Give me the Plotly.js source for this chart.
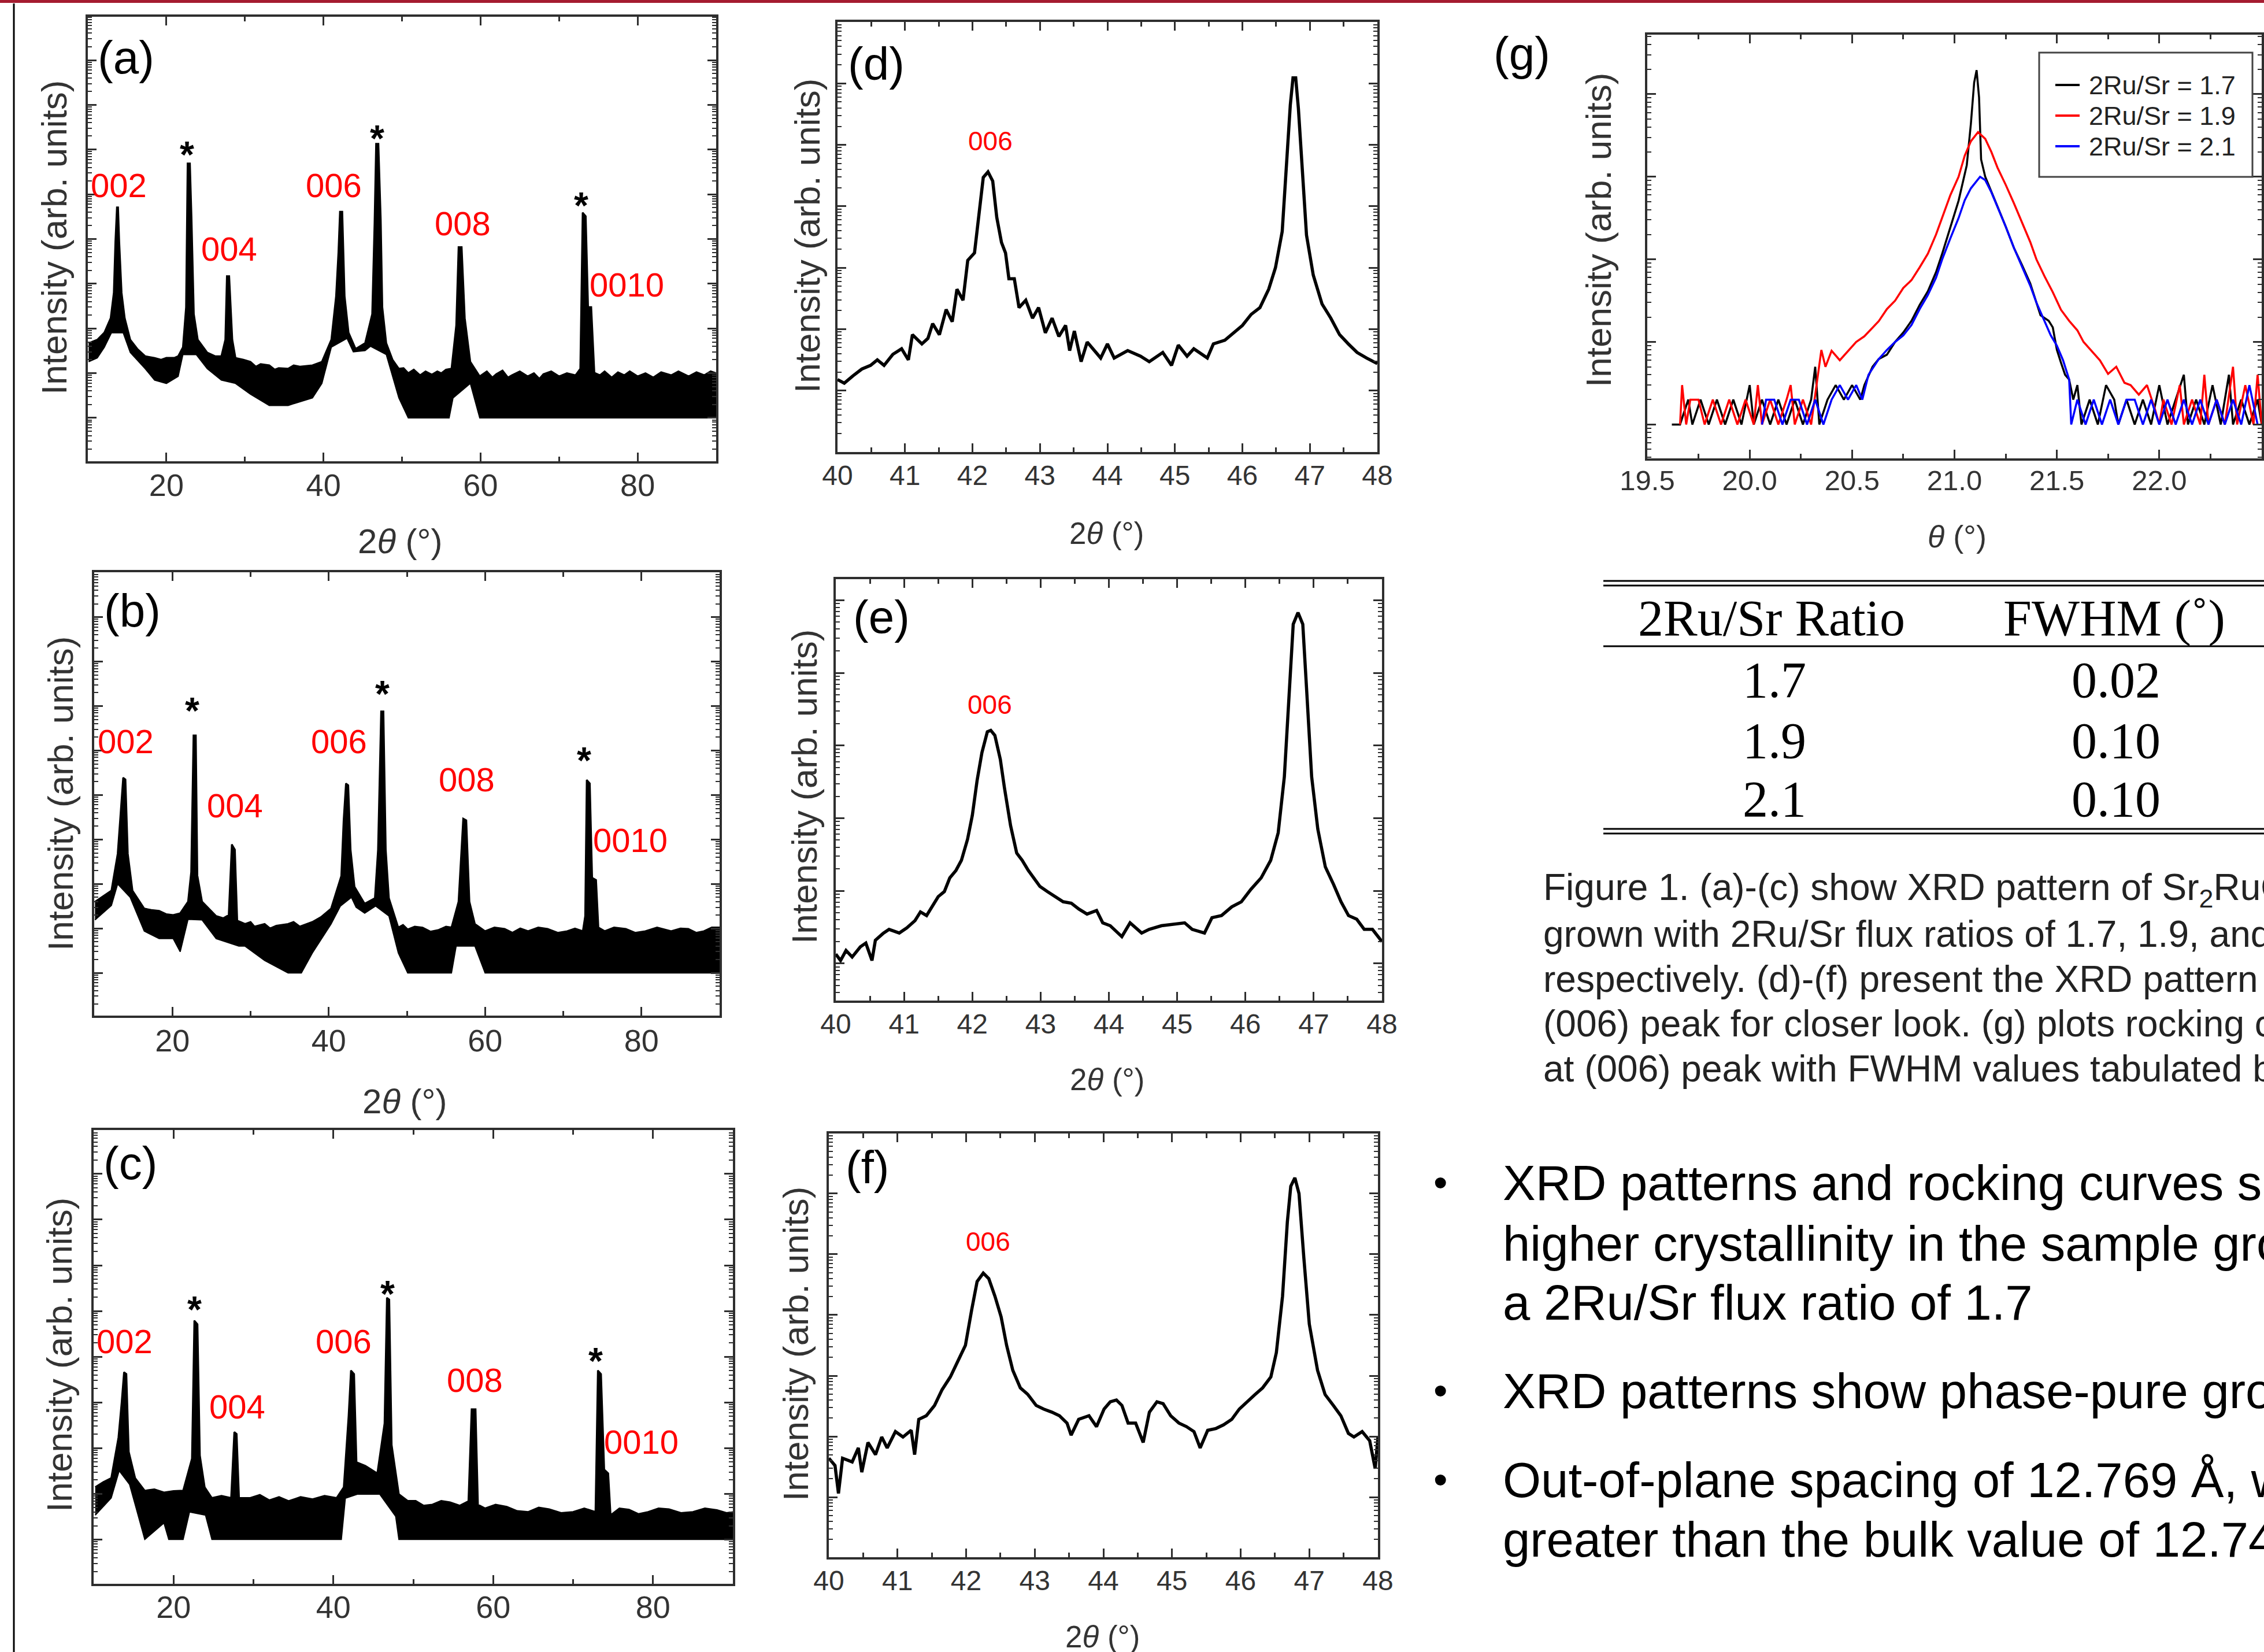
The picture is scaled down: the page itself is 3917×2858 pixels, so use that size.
<!DOCTYPE html>
<html>
<head>
<meta charset="utf-8">
<script src="https://cdn.plot.ly/plotly-3.0.1.min.js"></script>
<style>
html,body{margin:0;padding:0;overflow:hidden;background:#fff}
#chart{width:3917px;height:2858px}
</style>
</head>
<body>
<div id="chart"></div>
<script>
// ---------------- DATA ----------------
// (a) 2Ru/Sr = 1.7, wide scan: upper and lower envelope of the noisy trace (counts)
const aX = [10.1,11.2,12.1,12.9,13.3,13.5,13.7,13.85,14.0,14.3,14.7,15.4,16.3,17.3,18.5,19.3,20.0,21.0,21.5,22.1,22.5,22.7,23.0,23.2,23.5,24.0,25.2,26.2,27.0,27.5,27.7,28.0,28.4,28.8,29.8,30.7,31.4,32.0,33.1,33.8,34.3,35.5,36.2,37.0,38.6,39.8,41.0,41.6,41.9,42.1,42.4,42.7,43.2,44.1,45.3,46.2,46.5,46.7,47.0,47.3,47.5,48.0,48.8,49.6,50.2,50.8,51.5,52.3,53.0,53.8,54.5,55.0,55.6,56.3,56.9,57.2,57.6,58.0,58.7,59.9,60.8,61.5,62.0,62.8,63.5,64.0,65.0,66.0,66.8,67.5,68.0,69.0,70.0,71.0,72.1,72.7,73.0,73.4,73.7,74.1,74.5,75.2,75.8,76.7,77.5,78.3,79.0,80.0,81.0,82.0,83.0,84.3,85.2,86.5,87.5,88.5,89.3,90.0];
const aUpper = [47,56,81,170,631,8700,51000,51000,8700,630,170,56,35,24,22,20,22,22,24,38,300,490000,490000,32000,210,56,29,24,24,56,1480,1480,56,22,20,18,14,16,15,12,13,12.6,15,14,15,18,56,525,5000,40700,40700,525,81,35,47,209,22400,1350000,1350000,26900,300,47,20,12.6,13,10,12,9,11,9.3,11,10,12,12.6,117,6600,6600,170,18,8.5,11,8,9.5,11.5,8,9,11,8.5,10,7.5,9.5,11,8.5,10,9,12.6,38900,32400,300,300,10.2,9,11,8,10.5,9,11,8.5,10,8,10.5,9,11,8.5,10.5,9,11,10];
const aLowX = [10.1,11.2,12.1,13.0,14.5,15.4,17.3,18.5,20.0,21.5,22.1,23.8,25.2,27.0,28.8,30.7,33.1,35.5,38.6,39.8,41.0,43.0,43.8,45.3,46.0,48.0,49.6,50.8,56.0,56.5,58.7,59.9,90.0];
const aLower = [18,22,38,80,80,29,12.6,7,5.9,8.5,26,26,12.6,7,5.9,3.4,1.9,1.9,2.8,5.9,38,60,30,32,40,26,2.8,1,1,2.8,5.9,1,1];

// (b) 2Ru/Sr = 1.9, wide scan
const bX = [10.1,12.2,13.0,13.4,13.7,14.0,14.3,14.9,16.4,17.3,18.3,19.2,20.1,21.0,22.0,22.4,22.7,23.0,23.2,23.8,25.6,26.5,27.2,27.6,28.0,28.3,29.3,30.0,30.5,31.8,32.5,33.3,34.8,35.5,36.3,37.9,39.0,40.3,41.6,41.9,42.2,42.5,42.8,43.3,44.6,45.9,46.3,46.7,47.0,47.3,47.7,48.9,49.5,50.1,51.0,52.0,53.0,54.0,55.0,55.7,56.6,57.2,57.6,58.0,58.7,60.0,61.2,62.5,63.5,64.5,65.5,66.8,68.0,69.3,70.5,71.5,72.5,72.8,73.0,73.4,73.7,74.2,74.5,75.3,76.5,78.0,79.2,80.5,82.0,83.8,85.0,86.0,87.0,88.0,89.0,90.0];
const bUpper = [40,71,480,4000,24500,22400,480,71,28,26,25,21,20,22,40,186,219000,219000,155,40,19,17,20,776,589,15,12.6,14,11,12.6,10,11.5,12.6,14,11,14,18,28,151,2700,18200,16600,589,87,36,48,589,760000,760000,589,48,10.5,12,9.5,11,10.5,8.5,9.2,11,10.5,40,2950,2700,40,12.6,8.7,10.5,9.8,8,10,8.7,10.5,9.8,8,8.7,10,8.7,19,21900,18200,138,123,10.5,8.7,10.5,9.8,8,8.7,10.5,8.7,10,9.8,8,8.7,10.5,10.5];
const bLowX = [10.1,12.2,13.0,14.6,16.4,18.3,20.1,21.0,22.0,23.8,25.6,28.5,29.3,31.8,34.8,36.5,37.9,40.3,41.5,42.9,43.5,44.6,46.0,47.7,48.9,50.1,55.7,56.3,58.7,60.0,90.0];
const bLower = [15.5,33,100,50,8.7,5.9,5.9,3,16,15.5,5.9,4,4,1.9,1,1,2.8,12.6,32,50,30,22,32,19,2.8,1,1,4,4,1,1];

// (c) 2Ru/Sr = 2.1, wide scan
const cX = [10.2,11.2,12.2,13.1,13.5,13.8,14.1,14.4,15.2,16.4,17.6,18.8,20.0,21.2,22.3,22.6,23.0,23.3,23.9,24.8,26.0,27.2,27.6,27.9,28.2,29.6,30.8,32.0,33.2,34.4,35.9,37.4,38.9,40.4,41.3,41.9,42.2,42.6,42.9,44.0,45.5,46.4,46.7,47.0,47.3,48.2,49.3,50.3,51.3,52.4,53.5,54.6,55.8,56.9,57.3,57.8,58.1,59.0,60.3,61.7,63.0,64.4,65.7,67.0,68.5,70.0,71.4,72.8,73.1,73.5,73.9,74.4,74.7,75.8,77.0,78.2,79.4,80.7,82.0,83.5,85.0,86.5,88.0,89.2,90.2];
const cUpper = [14,18,22,170,1000,4570,4170,83,22,11.7,12.5,10.7,11.5,11.7,59,61700,51300,69,14,8.1,9,8.1,224,204,8.1,8.1,9.5,7.2,8.5,6.9,8.5,7.6,9,8.1,14,500,5000,4170,49,41,28,347,195000,178000,117,9.8,7,7,5.5,5.8,7,6.5,5.5,6.9,708,708,5.8,4.8,5.8,5.2,4.2,4,5,4.6,3.8,4,4.8,4,5000,4170,34,28,3.4,4.8,4.5,3.6,4,4.8,4.6,3.8,4,4.8,4.4,3.8,4];
const cLowX = [10.2,12.2,13.2,14.5,15.2,16.4,18.8,19.4,21.2,22.0,24.0,24.8,41.0,41.5,43.0,45.8,47.8,48.2,90.2];
const cLower = [3.4,8.1,32,16,5.8,1,2.3,1,1,4,3.4,1,1,8,9.8,9.8,3.2,1,1];

// (d)-(f) close-up of the (006) region
const dX = [40.00,40.10,40.23,40.36,40.49,40.59,40.69,40.82,40.95,41.05,41.11,41.25,41.34,41.41,41.51,41.61,41.70,41.77,41.86,41.93,42.03,42.10,42.16,42.23,42.30,42.36,42.43,42.49,42.54,42.62,42.69,42.79,42.89,42.98,43.08,43.18,43.28,43.38,43.44,43.51,43.61,43.70,43.90,44.00,44.10,44.30,44.49,44.62,44.82,44.95,45.05,45.18,45.28,45.48,45.57,45.74,45.87,46.00,46.13,46.26,46.39,46.49,46.59,46.66,46.71,46.75,46.79,46.83,46.89,46.95,47.05,47.18,47.31,47.44,47.57,47.70,47.84,48.00];
const dY = [15.1,13.2,17.4,22.4,25.7,31.6,25.7,38.9,47.9,31.6,81.3,57.5,70.8,123,81.3,209,132,447,295,1318,1738,8710,29500,36300,25700,6610,2570,1738,661,661,224,295,151,224,87.1,151,75.9,115,44.7,93.3,29.5,61.7,33.9,57.5,33.9,44.7,36.3,29.5,41.7,25.7,55.0,36.3,47.9,33.9,57.5,66.1,87.1,115,174,224,447,1000,3890,51300,447000,1230000,1230000,389000,44700,3390,759,257,151,81.3,57.5,41.7,33.9,27.5];
const eX = [40.00,40.07,40.15,40.24,40.36,40.44,40.53,40.58,40.70,40.78,40.93,41.04,41.16,41.24,41.33,41.41,41.50,41.59,41.67,41.76,41.84,41.93,42.00,42.07,42.14,42.22,42.27,42.33,42.41,42.47,42.56,42.65,42.73,42.82,42.90,42.99,43.10,43.22,43.33,43.45,43.56,43.68,43.82,43.91,44.02,44.19,44.31,44.48,44.59,44.77,44.94,45.11,45.22,45.40,45.51,45.65,45.80,45.94,46.08,46.23,46.37,46.48,46.57,46.63,46.70,46.77,46.84,46.90,46.97,47.06,47.17,47.29,47.40,47.51,47.63,47.74,47.86,48.00];
const eY = [13.5,11.0,15.1,12.3,17.0,19.1,11.0,20.9,26.3,29.5,26.3,30.9,38.9,51.3,45.7,60.3,83.2,97.7,151,191,263,513,1096,3311,7943,15500,16200,13800,6457,2630,794,331,263,191,151,115,97.7,83.2,70.8,67.6,56.2,47.9,53.7,36.3,33.1,23.4,36.3,26.3,29.5,33.1,34.7,36.3,29.5,26.3,42.7,45.7,60.3,70.8,105,151,263,631,3715,33100,468000,676000,468000,51300,3715,708,214,123,70.8,45.7,40.7,29.5,29.5,20.0];
const fX = [40.00,40.09,40.14,40.20,40.34,40.43,40.48,40.57,40.68,40.77,40.85,40.97,41.08,41.20,41.25,41.31,41.42,41.54,41.65,41.77,41.88,41.99,42.08,42.16,42.25,42.33,42.42,42.51,42.59,42.68,42.79,42.90,43.02,43.13,43.25,43.36,43.47,43.53,43.64,43.79,43.90,44.01,44.10,44.19,44.27,44.36,44.47,44.58,44.67,44.78,44.87,44.98,45.10,45.21,45.32,45.41,45.52,45.64,45.75,45.87,45.98,46.09,46.21,46.32,46.44,46.52,46.61,46.68,46.73,46.79,46.85,46.92,47.00,47.12,47.23,47.35,47.46,47.57,47.65,47.77,47.88,47.96,48.00];
const fY = [43.7,33.1,11.5,43.7,38.0,64.6,25.7,79.4,50.1,97.7,64.6,120,97.7,126,50.1,191,219,324,589,955,1738,3162,12000,35500,49000,39800,20400,9333,3162,1230,631,490,324,282,251,219,166,105,191,219,145,282,372,398,324,166,166,79.4,251,372,347,219,166,145,120,64.6,126,135,155,191,282,372,490,631,955,2399,20400,339000,1318000,1820000,1000000,89100,7079,1230,490,324,219,112,97.7,120,85.1,29.5,97.7];

// (g) rocking curves
const gNames = ['2Ru/Sr = 1.7','2Ru/Sr = 1.9','2Ru/Sr = 2.1'];
const gBlackX = [19.62,19.66,19.70,19.72,19.76,19.80,19.84,19.88,19.92,19.96,20.00,20.02,20.06,20.10,20.14,20.18,20.22,20.26,20.30,20.32,20.34,20.38,20.42,20.46,20.50,20.54,20.56,20.60,20.63,20.67,20.71,20.75,20.79,20.83,20.87,20.91,20.94,20.98,21.02,21.06,21.08,21.096,21.108,21.12,21.13,21.15,21.18,21.21,21.25,21.29,21.33,21.37,21.42,21.46,21.48,21.50,21.52,21.54,21.56,21.58,21.60,21.62,21.66,21.70,21.74,21.78,21.80,21.84,21.88,21.92,21.96,22.00,22.04,22.08,22.12,22.14,22.18,22.22,22.26,22.30,22.34,22.36,22.40,22.44,22.48,22.50];
const gBlack = [1,1,2,1,2,1,2,1,2,1,3,1,2,1,2,1,2,1,2,5,1,2,3,2,3,2,3,5,6.2,7,10,13,18,28,41,70,117,250,513,1380,4365,13800,19500,9120,1620,1000,650,437,250,138,85,51,21,18,15,8,5.6,4,3.5,2,3,1,2,1,3,2,1,2,1,2,1,3,1,2,4,1,2,1,3,1,4,1,2,1,2,1];
const gRedX = [19.66,19.67,19.69,19.71,19.75,19.78,19.82,19.86,19.90,19.94,19.98,20.02,20.04,20.06,20.10,20.14,20.18,20.20,20.22,20.26,20.30,20.33,20.35,20.37,20.40,20.44,20.48,20.52,20.56,20.60,20.63,20.67,20.71,20.75,20.79,20.83,20.87,20.91,20.94,20.98,21.02,21.05,21.08,21.115,21.15,21.18,21.21,21.25,21.29,21.33,21.37,21.40,21.44,21.48,21.52,21.56,21.60,21.63,21.67,21.71,21.75,21.79,21.83,21.86,21.90,21.94,21.98,22.00,22.02,22.06,22.10,22.12,22.16,22.20,22.22,22.24,22.28,22.32,22.36,22.38,22.42,22.46,22.48,22.50];
const gRed = [1,3,1,2,2,1,2,1,2,1,2,1,3,1,2,1,2,3,1,2,1,3.5,8,5,7.8,6,7.8,10,11.7,15,17.8,25,31.6,45,56,80,117,200,316,600,1000,1800,2690,3470,2880,2000,1290,800,479,280,162,100,62,40,24.5,18,13.8,10,7.8,6,4.1,5,3.2,3,2.3,3,1.5,1,2,1,3,1,2,1,4,1,2,1,5,1,3,1,4,1];
const gBlueX = [20.06,20.08,20.12,20.16,20.20,20.24,20.28,20.32,20.36,20.40,20.44,20.48,20.52,20.55,20.58,20.63,20.67,20.71,20.75,20.79,20.83,20.87,20.91,20.94,20.98,21.02,21.05,21.08,21.125,21.15,21.18,21.21,21.25,21.29,21.33,21.37,21.40,21.44,21.47,21.50,21.53,21.56,21.57,21.60,21.64,21.68,21.72,21.76,21.80,21.84,21.88,21.92,21.96,22.00,22.04,22.08,22.12,22.16,22.20,22.24,22.28,22.32,22.36,22.40,22.44,22.48];
const gBlue = [1,2,2,1,2,2,1,2,1,2,3,2,3,2,4,6.2,8,10,12,16,25,37,60,100,180,316,520,724,1000,912,650,437,250,138,80,48,30,18,12,9,6,3.5,1,2,1,2,1,2,1,2,2,1,2,1,2,1,2,1,2,1,2,1,2,1,3,1];

// peak labels
const wideLabels = ['002','004','006','008','0010'];
const zoomLabel = '006';

// FWHM table
const tableHeader = ['2Ru/Sr Ratio','FWHM (˚)'];
const tableRatio = ['1.7','1.9','2.1'];
const tableFWHM = ['0.02','0.10','0.10'];

// slide text
const captionLines = [
  'Figure 1. (a)-(c) show XRD pattern of Sr<sub>2</sub>RuO<sub>4</sub> thin films',
  'grown with 2Ru/Sr flux ratios of 1.7, 1.9, and 2.1,',
  'respectively. (d)-(f) present the XRD pattern of',
  '(006) peak for closer look. (g) plots rocking curves',
  'at (006) peak with FWHM values tabulated below.'
];
const bulletLines = [
  'XRD patterns and rocking curves show',
  'higher crystallinity in the sample grown with',
  'a 2Ru/Sr flux ratio of 1.7',
  'XRD patterns show phase-pure growth',
  'Out-of-plane spacing of 12.769 Å, which is',
  'greater than the bulk value of 12.74 Å'
];

// ---------------- LAYOUT ----------------
const W = 3917, H = 2858;
const FONT = '"Liberation Sans", Arial, Helvetica, sans-serif';
const SERIF = '"Liberation Serif", "Times New Roman", serif';
const FRAME = '#2e2e2e';
const GREY = '#333333';
const RED = '#ff0000';

const P = {
  a:{L:152,R:1239,T:29,B:798,  xr:[10,90],yr:[-0.97,8.97]},
  b:{L:163,R:1245,T:990,B:1757,xr:[10,90],yr:[-0.96,9.01]},
  c:{L:162,R:1268,T:1955,B:2740,xr:[10,90],yr:[-0.97,8.96]},
  d:{L:1449,R:2383,T:38,B:782, xr:[40,48],yr:[0,7]},
  e:{L:1446,R:2391,T:1002,B:1731,xr:[40,48],yr:[0.49,6.29]},
  f:{L:1434,R:2384,T:1961,B:2694,xr:[40,48],yr:[0.01,6.99]},
  g:{L:2850,R:3913,T:60,B:793, xr:[19.5,22.5],yr:[-0.41,4.72]}
};

function mkX(p, anchor, dtick, mdt, fs, so, fmt){
  return {domain:[p.L/W,p.R/W], anchor:anchor, range:p.xr, type:'linear',
    showline:true, linewidth:4, linecolor:FRAME, mirror:'ticks',
    ticks:'inside', ticklen:15, tickwidth:3, tickcolor:FRAME,
    dtick:dtick, tick0:0, tickformat:fmt||'', ticklabelstandoff:so,
    tickfont:{family:FONT,size:fs,color:GREY},
    showgrid:false, zeroline:false, fixedrange:true,
    minor:{dtick:mdt, ticks:'inside', ticklen:8, tickwidth:3, tickcolor:FRAME, showgrid:false}};
}
function mkY(p, anchor){
  return {domain:[1-p.B/H,1-p.T/H], anchor:anchor, type:'log', range:p.yr,
    showline:true, linewidth:4, linecolor:FRAME, mirror:'ticks',
    ticks:'inside', ticklen:15, tickwidth:3, tickcolor:FRAME,
    dtick:1, showticklabels:false, showgrid:false, zeroline:false, fixedrange:true,
    minor:{dtick:'D1', ticks:'inside', ticklen:7, tickwidth:2, tickcolor:FRAME, showgrid:false}};
}

const layout = {
  width:W, height:H, margin:{l:0,r:0,t:0,b:0},
  paper_bgcolor:'#ffffff', plot_bgcolor:'rgba(0,0,0,0)',
  showlegend:false, hovermode:false,
  font:{family:FONT,color:'#000'},
  xaxis: mkX(P.a,'y', 20,10,54,-9),
  yaxis: mkY(P.a,'x'),
  xaxis2:mkX(P.b,'y2',20,10,54,-7),
  yaxis2:mkY(P.b,'x2'),
  xaxis3:mkX(P.c,'y3',20,10,54,-10),
  yaxis3:mkY(P.c,'x3'),
  xaxis4:mkX(P.d,'y4',1,0.5,48,-5),
  yaxis4:mkY(P.d,'x4'),
  xaxis5:mkX(P.e,'y5',1,0.5,48,-5),
  yaxis5:mkY(P.e,'x5'),
  xaxis6:mkX(P.f,'y6',1,0.5,48,-5),
  yaxis6:mkY(P.f,'x6'),
  xaxis7:mkX(P.g,'y7',0.5,0.25,49,-8,'.1f'),
  yaxis7:mkY(P.g,'x7'),
  annotations:[], shapes:[]
};

function ann(text,x,y,o){
  o=o||{};
  layout.annotations.push({text:text, xref:'paper', yref:'paper', x:x/W, y:1-y/H,
    showarrow:false, xanchor:o.xa||'center', yanchor:'middle', textangle:o.rot||0,
    font:{family:o.family||FONT, size:o.size||50, color:o.color||'#000'}});
}
function hline(x0,x1,y,w,c){
  layout.shapes.push({type:'line',xref:'paper',yref:'paper',x0:x0/W,x1:x1/W,y0:1-y/H,y1:1-y/H,line:{color:c||'#000',width:w}});
}

// frame decorations of the slide
layout.shapes.push({type:'rect',xref:'paper',yref:'paper',x0:0,x1:1,y0:1-5/H,y1:1,fillcolor:'#a51c30',line:{width:0}});
layout.shapes.push({type:'line',xref:'paper',yref:'paper',x0:24/W,x1:24/W,y0:0,y1:1-6/H,line:{color:'#000',width:3}});

// panel letters
const letters = [['(a)',218,100],['(b)',229,1057],['(c)',225,2012],['(d)',1516,111],['(e)',1525,1067],['(f)',1501,2020],['(g)',2633,93]];
letters.forEach(l=>ann(l[0],l[1],l[2],{size:80}));

// axis titles
const xt2 = '2<i>θ</i> (°)';
[[692,937],[700,1905],[707,2885]].forEach(p=>ann(xt2,p[0],p[1],{size:60,color:GREY}));
[[1914,922],[1915,1868],[1907,2831]].forEach(p=>ann(xt2,p[0],p[1],{size:53,color:GREY}));
ann('<i>θ</i> (°)',3386,928,{size:54,color:GREY});
const yt = 'Intensity (arb. units)';
[[93,411],[104,1373],[102,2344],[1396,408],[1392,1361],[1376,2325],[2765,398]].forEach(p=>ann(yt,p[0],p[1],{size:62,color:GREY,rot:-90}));

// red hkl labels on wide scans
const wideLabelPos = [
  [[205,320],[396,430],[577,320],[800,386],[1084,492]],
  [[217,1282],[406,1393],[586,1282],[807,1348],[1090,1453]],
  [[215,2320],[410,2433],[594,2320],[821,2387],[1109,2494]]
];
wideLabelPos.forEach(set=>set.forEach((p,i)=>ann(wideLabels[i],p[0],p[1],{size:58,color:RED})));
// substrate asterisks
const starPos = [[323,253],[652,225],[1006,341],[332,1215],[661,1186],[1010,1301],[336,2251],[670,2224],[1030,2340]];
starPos.forEach(p=>ann('<b>*</b>',p[0],p[1]+15,{size:64}));
// 006 labels on close-ups
[[1713,244],[1712,1219],[1709,2148]].forEach(p=>ann(zoomLabel,p[0],p[1],{size:46,color:RED}));

// legend of (g)
layout.shapes.push({type:'rect',xref:'paper',yref:'paper',x0:3528/W,x1:3897/W,y0:1-306/H,y1:1-91/H,fillcolor:'#fff',line:{color:'#444',width:3}});
const gColors = ['#000000','#ff0000','#0000ff'];
[147,200,253].forEach((y,i)=>{
  hline(3556,3598,y,4,gColors[i]);
  ann(gNames[i],3612,y,{xa:'left',size:45,color:'#222'});
});

// FWHM table
hline(2774,W,1005,3); hline(2774,W,1013,3);
hline(2774,W,1118,3);
hline(2774,W,1434,3); hline(2774,W,1442,3);
ann(tableHeader[0],3065,1069,{size:88,family:SERIF});
ann(tableHeader[1],3658,1069,{size:88,family:SERIF});
[1176,1281,1382].forEach((y,i)=>{
  ann(tableRatio[i],3070,y,{size:88,family:SERIF});
  ann(tableFWHM[i],3661,y,{size:88,family:SERIF});
});

// caption
[1539,1616,1694,1771,1849].forEach((y,i)=>ann(captionLines[i],2668,y,{xa:'left',size:64,color:'#222'}));
// bullets
[2046,2151,2253,2406,2560,2663].forEach((y,i)=>ann(bulletLines[i],2598,y,{xa:'left',size:85}));
[2046,2406,2560].forEach(y=>ann('•',2492,y,{size:70}));

// ---------------- TRACES ----------------
function line(x,y,xa,ya,color,w,extra){
  return Object.assign({type:'scatter',mode:'lines',x:x,y:y,xaxis:xa,yaxis:ya,
    line:{color:color,width:w},hoverinfo:'skip',showlegend:false},extra||{});
}
const traces = [
  line(aLowX,aLower,'x','y','#000',2),
  line(aX,aUpper,'x','y','#000',3,{fill:'tonexty',fillcolor:'#000'}),
  line(bLowX,bLower,'x2','y2','#000',2),
  line(bX,bUpper,'x2','y2','#000',3,{fill:'tonexty',fillcolor:'#000'}),
  line(cLowX,cLower,'x3','y3','#000',2),
  line(cX,cUpper,'x3','y3','#000',3,{fill:'tonexty',fillcolor:'#000'}),
  line(dX,dY,'x4','y4','#000',5.5),
  line(eX,eY,'x5','y5','#000',5.5),
  line(fX,fY,'x6','y6','#000',5.5),
  line(gBlackX,gBlack,'x7','y7',gColors[0],3.5,{name:gNames[0]}),
  line(gRedX,gRed,'x7','y7',gColors[1],3.5,{name:gNames[1]}),
  line(gBlueX,gBlue,'x7','y7',gColors[2],3.5,{name:gNames[2]})
];

Plotly.newPlot('chart', traces, layout, {staticPlot:true, displayModeBar:false});
</script>
</body>
</html>
